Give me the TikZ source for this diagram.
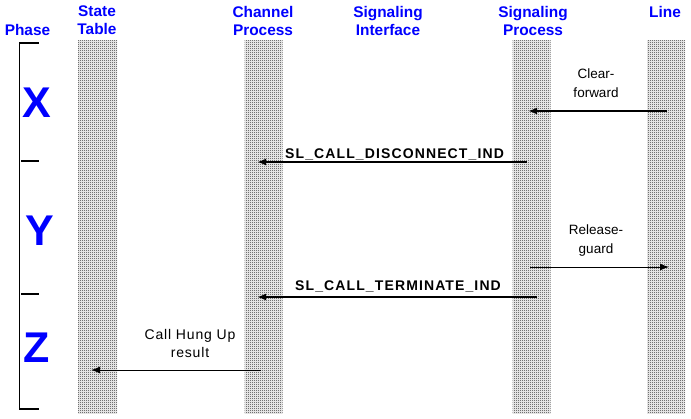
\documentclass[tikz,border=0pt]{standalone}
\usepackage{fontspec}
\setmainfont{Liberation Sans}
\usetikzlibrary{arrows.meta,patterns}
\pgfdeclarepatternformonly{stip}{\pgfqpoint{0pt}{0pt}}{\pgfqpoint{2pt}{2pt}}{\pgfqpoint{2pt}{2pt}}{%
  \pgfpathrectangle{\pgfqpoint{0pt}{0pt}}{\pgfqpoint{1pt}{1pt}}%
  \pgfpathrectangle{\pgfqpoint{1pt}{1pt}}{\pgfqpoint{1pt}{1pt}}%
  \pgfusepath{fill}}
\definecolor{hdrblue}{RGB}{0,0,255}
\begin{document}
\begin{tikzpicture}[x=1pt,y=-1pt,
  header/.style={text=hdrblue,font=\fontsize{15.4}{18.5}\selectfont\bfseries,align=center,anchor=base,inner sep=0pt},
  phaseletter/.style={text=hdrblue,font=\fontsize{43}{43}\selectfont\bfseries,inner sep=0pt},
  lifeline/.style={draw=none,pattern=stip,pattern color=black!85,minimum width=39pt,minimum height=373pt,inner sep=0pt,anchor=north},
  thickmsg/.style={line width=2pt,-{Latex[length=9pt,width=7pt]}},
  thinmsg/.style={line width=1pt,-{Latex[length=9pt,width=7pt]}},
  siglabel/.style={font=\fontsize{14}{19}\selectfont\bfseries\addfontfeature{LetterSpace=8},anchor=base,inner sep=0pt},
  msglabel/.style={font=\fontsize{13.5}{19}\selectfont,align=center,anchor=base,inner sep=0pt},
  bracket/.style={line width=1pt},
  tick/.style={line width=1.6pt}
]
\useasboundingbox (0,0) rectangle (691,418);
\fill[white] (0,0) rectangle (691,418);

% headers (anchor=base is the baseline of the last line)
\node[header] (hphase) at (27.5,35) {Phase};
\node[header] (hst) at (97,34.5) {State\\Table};
\node[header] (hcp) at (263,35.5) {Channel\\Process};
\node[header] (hsi) at (388,35.5) {Signaling\\Interface};
\node[header] (hsp) at (533,35.5) {Signaling\\Process};
\node[header] (hln) at (665,17) {Line};

% lifelines
\node[lifeline] (st) at (97.5,40) {};
\node[lifeline,minimum width=38pt] (cp) at (263.5,40) {};
\node[lifeline,minimum width=38pt] (sp) at (531.5,40) {};
\node[lifeline,minimum width=38pt] (ln) at (666,40) {};

% phase bracket
\coordinate (btop) at (19.5,42.7);
\coordinate (bbot) at (19.5,409);
\draw[bracket] (btop) -- (bbot);
\coordinate (t1a) at (19,42.7); \coordinate (t1b) at (38.5,42.7);
\coordinate (t2a) at (21,160.7); \coordinate (t2b) at (39,160.7);
\coordinate (t3a) at (21,294); \coordinate (t3b) at (39,294);
\coordinate (t4a) at (19,409); \coordinate (t4b) at (39,409);
\draw[tick] (t1a) -- (t1b);
\draw[tick] (t2a) -- (t2b);
\draw[tick] (t3a) -- (t3b);
\draw[tick] (t4a) -- (t4b);
\node[phaseletter] (px) at (37,102.5) {X};
\node[phaseletter] (py) at (40,231) {Y};
\node[phaseletter] (pz) at (37,347.5) {Z};

% messages
\coordinate (m1s) at (667,111); \coordinate (m1e) at (528,111);
\draw[thickmsg] (m1s) -- (m1e);
\node[msglabel] (l1) at (596,97) {Clear-\\forward};

\coordinate (m2s) at (527,162); \coordinate (m2e) at (257,162);
\draw[thickmsg] (m2s) -- (m2e);
\node[siglabel] (l2) at (394.5,158) {SL\_CALL\_DISCONNECT\_IND};

\coordinate (m3s) at (530,267); \coordinate (m3e) at (669,267);
\draw[thinmsg] (m3s) -- (m3e);
\node[msglabel] (l3) at (596,253) {Release-\\guard};

\coordinate (m4s) at (537,297); \coordinate (m4e) at (257,297);
\draw[thickmsg] (m4s) -- (m4e);
\node[siglabel] (l4) at (398,290) {SL\_CALL\_TERMINATE\_IND};

\coordinate (m5s) at (261,370); \coordinate (m5e) at (91,370);
\draw[thinmsg] (m5s) -- (m5e);
\node[msglabel,font=\fontsize{14}{18}\selectfont\addfontfeature{LetterSpace=6}] (l5) at (190,357) {Call Hung Up\\result};
\end{tikzpicture}
\end{document}
